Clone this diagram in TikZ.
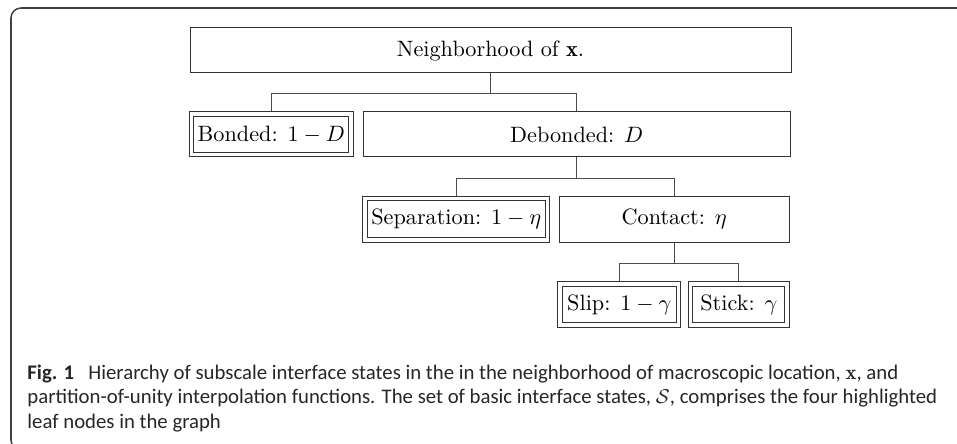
\documentclass[tikz,border=0pt]{standalone}
\usepackage{fontspec}
\newfontfamily\capfont{Carlito}
\usetikzlibrary{calc,backgrounds}
\def\PX{0.45pt}
\newlength\capw
\begin{document}
\settowidth\capw{\capfont\fontsize{10}{12}\selectfont partition-of-unity interpolation functions. The set of basic interface states, $\mathcal{S}$, comprises the four highlighted}%
\pgfmathsetmacro\capsize{10*409.4/\capw}%
\begin{tikzpicture}[x=0.45pt,y=-0.45pt,
  box/.style={draw=black!80, line width=0.45pt, rectangle, inner sep=0pt, font=\fontsize{10}{12}\selectfont},
  leaf/.style={box, double=white, double distance=1.575pt},
  link/.style={draw=black!70, line width=0.45pt},
  frameline/.style={draw=black!75, line width=0.7pt, rounded corners=4.5pt},
  captext/.style={anchor=base west, inner sep=0pt, text=black!85, font=\capfont\fontsize{\capsize}{10}\selectfont}]
\useasboundingbox (0,0) rectangle (957,444);
\draw[frameline] (990,8) -- (11,8) -- (11,450) -- (40,450);

\node[box, minimum width=601*\PX, minimum height=45*\PX] (top) at (490.5,50.5) {Neighborhood of $\mathbf{x}$.};
\node[leaf, minimum width=159.5*\PX, minimum height=40.5*\PX] (bonded) at (271.3,134.5) {Bonded: $1-D$};
\node[box, minimum width=426.7*\PX, minimum height=45*\PX] (debonded) at (576.7,134.5) {Debonded: $D$};
\node[leaf, minimum width=182.8*\PX, minimum height=41.2*\PX] (sep) at (456.3,219.2) {Separation: $1-\eta$};
\node[box, minimum width=230.3*\PX, minimum height=45.7*\PX] (contact) at (674.2,219.2) {Contact: $\eta$};
\node[leaf, minimum width=118.8*\PX, minimum height=41.1*\PX] (slip) at (619.3,304.5) {Slip: $1-\gamma$};
\node[leaf, minimum width=96.5*\PX, minimum height=41.1*\PX] (stick) at (738.8,304.5) {Stick: $\gamma$};

\begin{scope}[on background layer]
\draw[link] (top.south) -- ++(0,20) -| (bonded.north);
\draw[link] (top.south) -- ++(0,20) -| (debonded.north);
\draw[link] (debonded.south) -- ++(0,20.7) -| (sep.north);
\draw[link] (debonded.south) -- ++(0,20.7) -| (contact.north);
\draw[link] (contact.south) -- ++(0,20.7) -| (slip.north);
\draw[link] (contact.south) -- ++(0,20.7) -| (stick.north);
\end{scope}

\node[captext] (c1) at (27,380) {\textbf{Fig. 1}\hspace{6.4pt}Hierarchy of subscale interface states in the in the neighborhood of macroscopic location, $\mathbf{x}$, and};
\node[captext] (c2) at (27,404) {partition-of-unity interpolation functions. The set of basic interface states, $\mathcal{S}$, comprises the four highlighted};
\node[captext] (c3) at (27,428) {leaf nodes in the graph};
\end{tikzpicture}
\end{document}
